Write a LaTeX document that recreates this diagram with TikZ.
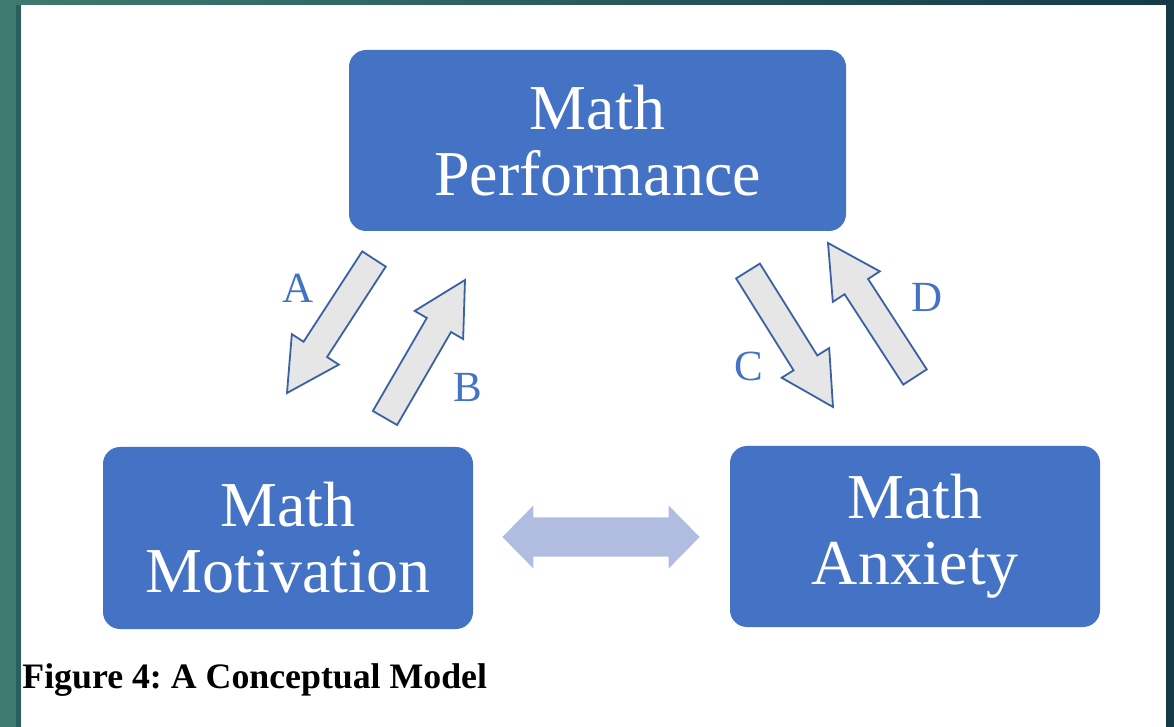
\documentclass[tikz,border=0pt]{standalone}
\usepackage{fontspec}
\setmainfont{Liberation Serif}
\usetikzlibrary{calc}
\frenchspacing

\definecolor{boxblue}{RGB}{68,114,196}
\definecolor{arrowgray}{RGB}{230,230,230}
\definecolor{arrowline}{RGB}{58,96,166}
\definecolor{linkblue}{RGB}{176,189,224}
\definecolor{frameteal}{RGB}{62,123,112}
\definecolor{frameshade}{RGB}{42,96,92}
\definecolor{framedark}{RGB}{20,58,72}

\tikzset{
  factor/.style={rectangle, rounded corners=8.5pt, fill=boxblue, text=white,
    align=center, inner sep=0pt, font=\fontsize{32}{33}\selectfont},
  path label/.style={text=boxblue, inner sep=0pt, font=\fontsize{21.5}{22}\selectfont},
  fat arrow/.style={draw=arrowline, fill=arrowgray, line width=0.9pt, line join=miter},
  link arrow/.style={fill=linkblue, draw=none},
}

% block arrow from #1 (tail) to #2 (tip)
\newcommand{\fatarrow}[2]{%
  \coordinate (hb) at ($(#2)!26pt!(#1)$);
  \draw[fat arrow] ($(#1)!7pt!90:(#2)$) -- ($(hb)!7pt!90:(#2)$) -- ($(hb)!14pt!90:(#2)$)
    -- (#2) -- ($(hb)!14pt!-90:(#2)$) -- ($(hb)!7pt!-90:(#2)$) -- ($(#1)!7pt!-90:(#2)$) -- cycle;
}
% two-headed block arrow from #1 to #2
\newcommand{\linkarrow}[2]{%
  \coordinate (hl) at ($(#1)!15.5pt!(#2)$);
  \coordinate (hr) at ($(#2)!15.5pt!(#1)$);
  \fill[link arrow] (#1) -- ($(hl)!15.75pt!90:(#2)$) -- ($(hl)!9.75pt!90:(#2)$)
    -- ($(hr)!9.75pt!-90:(#1)$) -- ($(hr)!15.75pt!-90:(#1)$) -- (#2)
    -- ($(hr)!15.75pt!90:(#1)$) -- ($(hr)!9.75pt!90:(#1)$)
    -- ($(hl)!9.75pt!-90:(#2)$) -- ($(hl)!15.75pt!-90:(#2)$) -- cycle;
}

\begin{document}
\begin{tikzpicture}[x=0.5pt, y=-0.5pt]
    % Slide frame
    \useasboundingbox (0,0) rectangle (1174,727);
    \fill[white] (0,0) rectangle (1174,727);
    \fill[frameteal] (0,0) rectangle (21,727);
    \fill[frameshade] (16,5) rectangle (21,727);
    \shade[left color=frameteal, right color=framedark] (0,0) rectangle (1174,5);
    \fill[framedark] (1166,0) rectangle (1174,727);

    % Nodes
    \node[factor, minimum width=248.5pt, minimum height=90.5pt] (perf) at (597.5,140.5) {Math\\Performance};
    \node[factor, minimum width=185pt, minimum height=91pt] (motiv) at (288,538) {Math\\Motivation};
    \node[factor, minimum width=185pt, minimum height=90.5pt] (anx) at (915,536.5) {Math\\Anxiety};

    % Arrow ends
    \coordinate (tailA) at (374,259);  \coordinate (tipA) at (287,393);
    \coordinate (tailB) at (385,418);  \coordinate (tipB) at (465,280);
    \coordinate (tailC) at (748,271);  \coordinate (tipC) at (833,407);
    \coordinate (tailD) at (915,377);  \coordinate (tipD) at (828,243);

    % Paths
    \fatarrow{tailA}{tipA}
    \fatarrow{tailB}{tipB}
    \fatarrow{tailC}{tipC}
    \fatarrow{tailD}{tipD}
    \linkarrow{$(motiv.east)+(29,-1)$}{$(anx.west)+(-30,0.5)$}

    \node[path label] (labA) at (298,288) {A};
    \node[path label] (labB) at (468,387) {B};
    \node[path label] (labC) at (749,366) {C};
    \node[path label] (labD) at (927,297) {D};

    % Caption
    \node[anchor=base west, inner sep=0pt, font=\bfseries\fontsize{17.9}{20}\selectfont] (caption) at (22,688) {Figure 4: A Conceptual Model};
\end{tikzpicture}
\end{document}
